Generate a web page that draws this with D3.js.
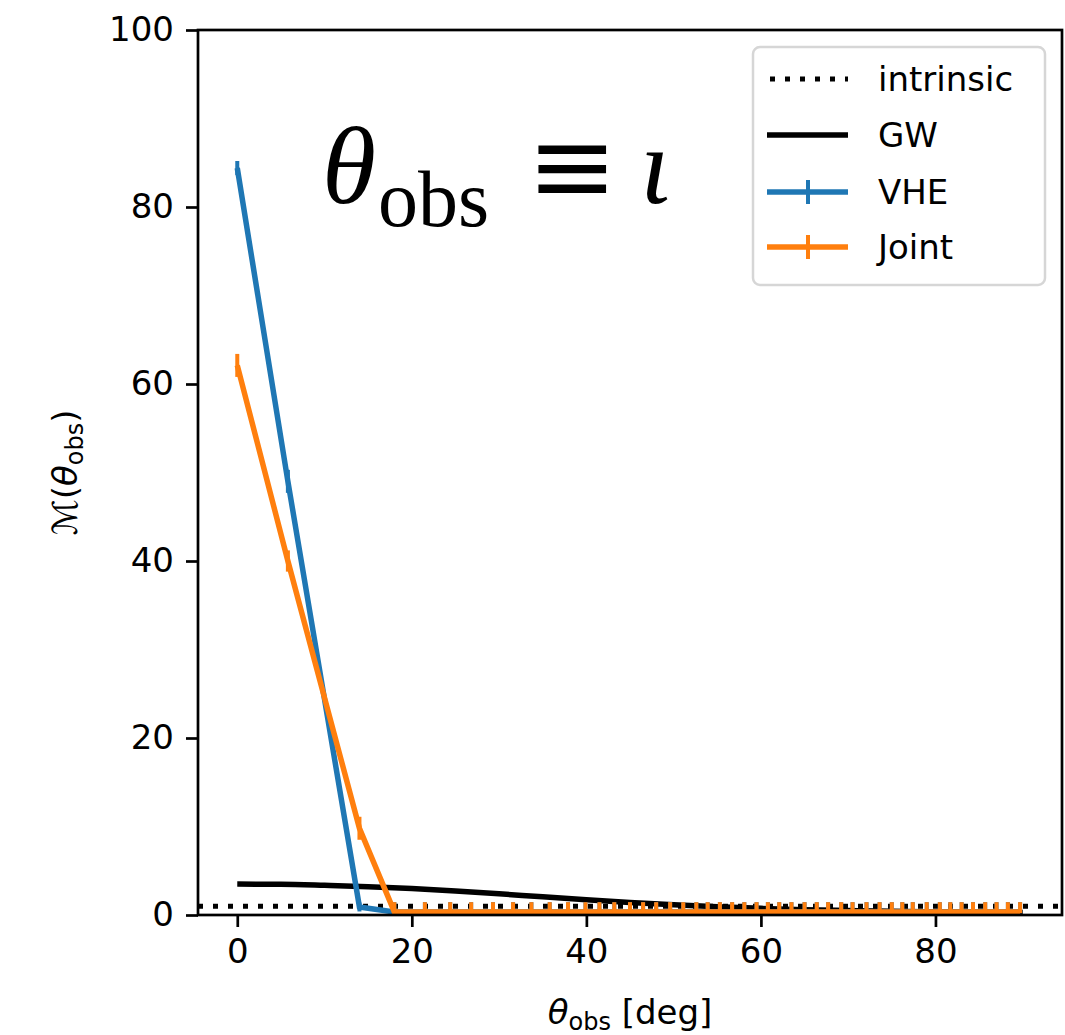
<!DOCTYPE html>
<html>
<head>
<meta charset="utf-8">
<script src="https://cdn.jsdelivr.net/npm/d3@7"></script>
<style>
  body { margin: 0; background: #fff; }
  svg { display: block; }
  text { font-family: "DejaVu Sans", sans-serif; fill: #000; }
</style>
</head>
<body>
<svg id="chart" width="1065" height="1035"></svg>
<script>
// observing angle grid (deg)
var theta = [0, 5.8, 14.0, 18.0, 21.5, 24.4, 26.8, 29.3, 31.6, 33.7, 35.8, 37.9, 39.9,
             41.5, 43.2, 45.0, 46.5, 48.0, 49.6, 51.1, 52.6, 53.9, 55.3, 56.7, 58.1,
             59.5, 60.8, 62.1, 63.5, 65.0, 66.4, 67.7, 69.2, 70.5, 72.1, 73.6, 75.0,
             76.2, 77.4, 79.0, 80.5, 81.7, 83.0, 84.3, 85.7, 87.0, 88.3, 89.7];

var vhe = [84.4, 49.0, 0.9, 0.35, 0.35, 0.35, 0.35, 0.35, 0.35, 0.35, 0.35, 0.35, 0.35,
           0.35, 0.35, 0.35, 0.35, 0.35, 0.35, 0.35, 0.35, 0.35, 0.35, 0.35, 0.35,
           0.35, 0.35, 0.35, 0.35, 0.35, 0.35, 0.35, 0.35, 0.35, 0.35, 0.35, 0.35,
           0.35, 0.35, 0.35, 0.35, 0.35, 0.35, 0.35, 0.35, 0.35, 0.35, 0.35];
var vheErr = [0.8, 1.3, 0.5, 1.1, 1.1, 1.1, 1.1, 1.1, 1.1, 1.1, 1.1, 1.1, 1.1,
              1.1, 1.1, 1.1, 1.1, 1.1, 1.1, 1.1, 1.1, 1.1, 1.1, 1.1, 1.1,
              1.1, 1.1, 1.1, 1.1, 1.1, 1.1, 1.1, 1.1, 1.1, 1.1, 1.1, 1.1,
              1.1, 1.1, 1.1, 1.1, 1.1, 1.1, 1.1, 1.1, 1.1, 1.1, 1.1];

var joint = [62.1, 40.0, 9.8, 0.35, 0.35, 0.35, 0.35, 0.35, 0.35, 0.35, 0.35, 0.35, 0.35,
             0.35, 0.35, 0.35, 0.35, 0.35, 0.35, 0.35, 0.35, 0.35, 0.35, 0.35, 0.35,
             0.35, 0.35, 0.35, 0.35, 0.35, 0.35, 0.35, 0.35, 0.35, 0.35, 0.35, 0.35,
             0.35, 0.35, 0.35, 0.35, 0.35, 0.35, 0.35, 0.35, 0.35, 0.35, 0.35];
var jointErr = [1.3, 1.2, 1.3, 1.1, 1.1, 1.1, 1.1, 1.1, 1.1, 1.1, 1.1, 1.1, 1.1,
                1.1, 1.1, 1.1, 1.1, 1.1, 1.1, 1.1, 1.1, 1.1, 1.1, 1.1, 1.1,
                1.1, 1.1, 1.1, 1.1, 1.1, 1.1, 1.1, 1.1, 1.1, 1.1, 1.1, 1.1,
                1.1, 1.1, 1.1, 1.1, 1.1, 1.1, 1.1, 1.1, 1.1, 1.1, 1.1];

// GW-only curve (smooth)
var gwTheta = [0, 5, 10, 15, 20, 25, 30, 35, 40, 45, 50, 55, 60, 65, 70, 75, 80, 85, 90];
var gw = [3.5, 3.47, 3.35, 3.2, 3.0, 2.72, 2.4, 2.05, 1.72, 1.42, 1.15, 0.92, 0.75,
          0.6, 0.5, 0.42, 0.35, 0.3, 0.27];

var intrinsic = 1;

var xTicks = [0, 20, 40, 60, 80];
var yTicks = [0, 20, 40, 60, 80, 100];

var legendLabels = ["intrinsic", "GW", "VHE", "Joint"];

var blue = "#1f77b4", orange = "#ff7f0e";

var svg = d3.select("#chart");
var L = 198, R = 1062, T = 30, B = 915;

var x = d3.scaleLinear().domain([-4.5, 94.5]).range([L, R]);
var y = d3.scaleLinear().domain([0, 100]).range([B, T]);

var g = svg.append("g");

// clip to the axes box
svg.append("defs").append("clipPath").attr("id", "clip")
  .append("rect").attr("x", L).attr("y", T).attr("width", R - L).attr("height", B - T);
var plot = g.append("g").attr("clip-path", "url(#clip)");

// intrinsic
plot.append("line")
  .attr("x1", L).attr("x2", R)
  .attr("y1", y(intrinsic)).attr("y2", y(intrinsic))
  .attr("stroke", "#000").attr("stroke-width", 5)
  .attr("stroke-dasharray", "5,10");

// GW
var gwLine = d3.line()
  .x(function(d, i) { return x(gwTheta[i]); })
  .y(function(d) { return y(d); })
  .curve(d3.curveMonotoneX);
plot.append("path").datum(gw)
  .attr("d", gwLine)
  .attr("fill", "none").attr("stroke", "#000").attr("stroke-width", 5.5);

function drawSeries(vals, errs, color) {
  var line = d3.line()
    .x(function(d, i) { return x(theta[i]); })
    .y(function(d) { return y(d); });
  plot.append("path").datum(vals)
    .attr("d", line)
    .attr("fill", "none").attr("stroke", color)
    .attr("stroke-width", 5.5).attr("stroke-linejoin", "miter");
  plot.selectAll(null).data(vals).enter().append("line")
    .attr("x1", function(d, i) { return x(theta[i]); })
    .attr("x2", function(d, i) { return x(theta[i]); })
    .attr("y1", function(d, i) { return y(Math.max(0.2, d - errs[i])); })
    .attr("y2", function(d, i) { return y(d + errs[i]); })
    .attr("stroke", color).attr("stroke-width", 4);
}
drawSeries(vhe, vheErr, blue);
drawSeries(joint, jointErr, orange);

// axes
var xAxis = d3.axisBottom(x).tickValues(xTicks).tickSize(12).tickPadding(12);
var yAxis = d3.axisLeft(y).tickValues(yTicks).tickSize(12).tickPadding(12);

var gx = g.append("g").attr("transform", "translate(0," + B + ")").call(xAxis);
var gy = g.append("g").attr("transform", "translate(" + L + ",0)").call(yAxis);
[gx, gy].forEach(function(a) {
  a.select(".domain").remove();
  a.selectAll(".tick line").attr("stroke", "#000").attr("stroke-width", 2.7);
  a.selectAll(".tick text").attr("font-size", 34).attr("font-family", "DejaVu Sans").attr("fill", "#000");
});

// frame
g.append("rect").attr("x", L).attr("y", T).attr("width", R - L).attr("height", B - T)
  .attr("fill", "none").attr("stroke", "#000").attr("stroke-width", 2.7);

// axis labels
var xl = g.append("text").attr("x", (L + R) / 2).attr("y", 1024)
  .attr("text-anchor", "middle").attr("font-size", 34);
xl.append("tspan").attr("font-style", "italic").text("θ");
xl.append("tspan").attr("font-size", 24).attr("dy", 6).text("obs");
xl.append("tspan").attr("dy", -6).text(" [deg]");

var yl = g.append("text")
  .attr("transform", "translate(77," + ((T + B) / 2) + ") rotate(-90)")
  .attr("text-anchor", "middle").attr("font-size", 34);
yl.append("tspan").text("ℳ(");
yl.append("tspan").attr("font-style", "italic").text("θ");
yl.append("tspan").attr("font-size", 24).attr("dy", 6).text("obs");
yl.append("tspan").attr("dy", -6).text(")");

// big annotation
var ann = g.append("g");
ann.append("text").attr("x", 322).attr("y", 203).attr("font-size", 110)
  .attr("font-style", "italic").style("font-family", "'Liberation Serif', serif").text("θ");
ann.append("text").attr("x", 378).attr("y", 226).attr("font-size", 80)
  .style("font-family", "'Liberation Serif', serif").text("obs");
ann.append("text").attr("x", 527).attr("y", 203).attr("font-size", 108)
  .style("font-family", "'DejaVu Serif', serif").text("≡");
ann.append("text").attr("x", 640).attr("y", 203).attr("font-size", 110)
  .attr("font-style", "italic").style("font-family", "'Liberation Serif', serif").text("ι");

// legend
var lg = g.append("g");
lg.append("rect").attr("x", 753).attr("y", 47).attr("width", 292).attr("height", 238)
  .attr("rx", 7).attr("fill", "#fff").attr("fill-opacity", 0.8)
  .attr("stroke", "#d6d6d6").attr("stroke-width", 2.5);
var rowY = [79, 135, 192, 247];
var styles = [
  { c: "#000", dash: "5,10", bar: false },
  { c: "#000", dash: null, bar: false },
  { c: blue, dash: null, bar: true },
  { c: orange, dash: null, bar: true }
];
legendLabels.forEach(function(lab, i) {
  var s = styles[i];
  var ln = lg.append("line").attr("x1", 767).attr("x2", 848)
    .attr("y1", rowY[i]).attr("y2", rowY[i])
    .attr("stroke", s.c).attr("stroke-width", 5.5);
  if (s.dash) ln.attr("stroke-dasharray", s.dash).attr("stroke-width", 5).attr("x1", 770);
  if (s.bar) {
    lg.append("line").attr("x1", 808).attr("x2", 808)
      .attr("y1", rowY[i] - 12).attr("y2", rowY[i] + 12)
      .attr("stroke", s.c).attr("stroke-width", 4);
  }
  lg.append("text").attr("x", 878).attr("y", rowY[i] + 12)
    .attr("font-size", 34).text(lab);
});
</script>
</body>
</html>
